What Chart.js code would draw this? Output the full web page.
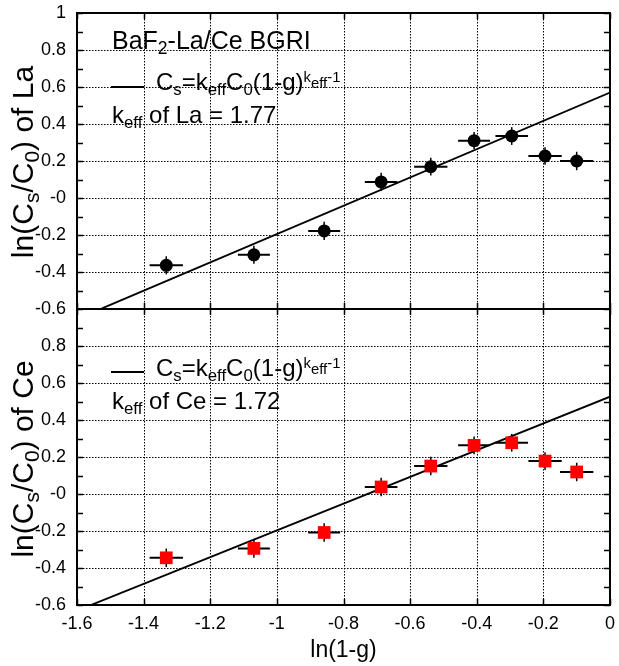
<!DOCTYPE html>
<html lang="en">
<head>
<meta charset="UTF-8">
<title>BaF2-La/Ce BGRI - ln(Cs/C0) vs ln(1-g)</title>
<script src="https://cdn.jsdelivr.net/npm/chart.js"></script>
<style>
  body { margin: 0; background: #fff; }
  .wrap { position: relative; width: 619px; height: 666px; font-family: 'Liberation Sans', Arial, sans-serif; color: #000; }
  .note { position: absolute; font-size: 24px; line-height: 1; white-space: nowrap; }
  .sb { position: relative; top: 0.3em; font-size: 70%; }
  .sp { position: relative; top: -0.55em; font-size: 62%; }
  .sp .sb { font-size: 100%; top: 0.4em; }
  .lg { position: absolute; height: 0; border-top: 2px solid #000; }
  .ytitle { position: absolute; font-size: 30px; line-height: 1; white-space: nowrap; transform: translate(-50%, -50%) rotate(-90deg); }
</style>
</head>
<body>
<div class="wrap">
  <canvas id="grafico" width="619" height="666"></canvas>

  <div class="ytitle" style="left:23px; top:162px">ln(C<span class="sb">s</span>/C<span class="sb">0</span>) of La</div>
  <div class="ytitle" style="left:23px; top:459px">ln(C<span class="sb">s</span>/C<span class="sb">0</span>) of Ce</div>

  <div class="note" style="left:112px; top:28px; font-size:25px">BaF<span class="sb">2</span>-La/Ce BGRI</div>
  <div class="lg" style="left:111px; top:86px; width:33px"></div>
  <div class="note" style="left:156px; top:70px">C<span class="sb">s</span>=k<span class="sb">eff</span>C<span class="sb">0</span>(1-g)<span class="sp">k<span class="sb">eff</span>-1</span></div>
  <div class="note" style="left:112px; top:103px">k<span class="sb">eff</span> of La = 1.77</div>

  <div class="lg" style="left:111px; top:371px; width:33px"></div>
  <div class="note" style="left:156px; top:356px">C<span class="sb">s</span>=k<span class="sb">eff</span>C<span class="sb">0</span>(1-g)<span class="sp">k<span class="sb">eff</span>-1</span></div>
  <div class="note" style="left:112px; top:389px">k<span class="sb">eff</span> of Ce = 1.72</div>
</div>

<script>
  // ln(1-g) positions of the samples
  const lnG = [-1.332, -1.069, -0.858, -0.687, -0.538, -0.408, -0.295, -0.195, -0.100];
  const errG = [0.05, 0.048, 0.048, 0.049, 0.05, 0.048, 0.049, 0.05, 0.05];

  // ln(Cs/C0) for La and Ce
  const lnLa = [-0.364, -0.307, -0.178, 0.087, 0.169, 0.310, 0.335, 0.227, 0.200];
  const errLa = [0.049, 0.049, 0.049, 0.049, 0.048, 0.047, 0.048, 0.047, 0.05];
  const lnCe = [-0.345, -0.294, -0.208, 0.038, 0.151, 0.263, 0.277, 0.178, 0.119];
  const errCe = [0.05, 0.05, 0.05, 0.05, 0.05, 0.048, 0.048, 0.048, 0.05];

  // fitted lines (slope = keff - 1)
  const fitLaX = [-1.525, 0];
  const fitLaY = [-0.597, 0.57];
  const fitCeX = [-1.555, 0];
  const fitCeY = [-0.598, 0.526];

  const xLabels = ['-1.6', '-1.4', '-1.2', '-1', '-0.8', '-0.6', '-0.4', '-0.2', '0'];
  const yLabels = ['-0.6', '-0.4', '-0.2', '-0', '0.2', '0.4', '0.6', '0.8', '1'];

  function pontos(xs, ys) {
    return xs.map((x, i) => ({ x: x, y: ys[i] }));
  }

  function rotuloX(v) {
    const k = Math.round((v + 1.6) * 5);
    return xLabels[k] || '';
  }

  function rotuloY(v) {
    const k = Math.round((v + 0.6) * 10);
    return k % 2 === 0 ? yLabels[k / 2] : '';
  }

  const ehMaior = v => Math.round(v * 10) % 2 === 0;

  // dotted grid, drawn before the data
  const grade = {
    id: 'grade',
    beforeDatasetsDraw(chart) {
      const { ctx, chartArea: a, scales } = chart;
      ctx.save();
      ctx.strokeStyle = '#000';
      ctx.lineWidth = 1;
      ctx.setLineDash([1.5, 1.5]);
      ctx.beginPath();
      scales.x.ticks.forEach(tk => {
        const px = Math.round(scales.x.getPixelForValue(tk.value)) + 0.5;
        ctx.moveTo(px, a.top);
        ctx.lineTo(px, a.bottom);
      });
      ['yLa', 'yCe'].forEach(id => {
        const s = scales[id];
        s.ticks.forEach(tk => {
          if (!ehMaior(tk.value)) return;
          const py = Math.round(s.getPixelForValue(tk.value)) + 0.5;
          ctx.moveTo(a.left, py);
          ctx.lineTo(a.right, py);
        });
      });
      ctx.stroke();
      ctx.restore();
    }
  };

  // error bars, drawn under the markers
  const barrasErro = {
    id: 'barrasErro',
    beforeDatasetsDraw(chart) {
      const ctx = chart.ctx;
      const xs = chart.scales.x;
      ctx.save();
      ctx.strokeStyle = '#000';
      chart.data.datasets.forEach(ds => {
        if (!ds.errX) return;
        const ys = chart.scales[ds.yAxisID];
        ds.data.forEach((p, j) => {
          const cx = xs.getPixelForValue(p.x);
          const cy = ys.getPixelForValue(p.y);
          ctx.lineWidth = 2;
          ctx.beginPath();
          ctx.moveTo(xs.getPixelForValue(p.x - ds.errX[j]), cy);
          ctx.lineTo(xs.getPixelForValue(p.x + ds.errX[j]), cy);
          ctx.stroke();
          ctx.lineWidth = 1.5;
          ctx.beginPath();
          ctx.moveTo(cx, ys.getPixelForValue(p.y - ds.errY[j]));
          ctx.lineTo(cx, ys.getPixelForValue(p.y + ds.errY[j]));
          ctx.stroke();
        });
      });
      ctx.restore();
    }
  };

  // frame, middle divider and inside tick marks
  const moldura = {
    id: 'moldura',
    afterDraw(chart) {
      const { ctx, chartArea: a, scales } = chart;
      const meio = scales.yLa.bottom;
      const t = 6;
      ctx.save();
      ctx.strokeStyle = '#000';
      ctx.lineWidth = 1.5;
      ctx.beginPath();
      scales.x.ticks.forEach(tk => {
        const px = Math.round(scales.x.getPixelForValue(tk.value)) + 0.5;
        ctx.moveTo(px, a.top); ctx.lineTo(px, a.top + t);
        ctx.moveTo(px, meio - t); ctx.lineTo(px, meio + t);
        ctx.moveTo(px, a.bottom - t); ctx.lineTo(px, a.bottom);
      });
      ['yLa', 'yCe'].forEach(id => {
        const s = scales[id];
        s.ticks.forEach(tk => {
          const py = Math.round(s.getPixelForValue(tk.value)) + 0.5;
          ctx.moveTo(a.left, py); ctx.lineTo(a.left + t, py);
          ctx.moveTo(a.right - t, py); ctx.lineTo(a.right, py);
        });
      });
      ctx.stroke();
      ctx.lineWidth = 2;
      ctx.strokeRect(a.left, a.top, a.width, a.height);
      ctx.beginPath();
      ctx.moveTo(a.left, meio);
      ctx.lineTo(a.right, meio);
      ctx.stroke();
      ctx.restore();
    }
  };

  Chart.defaults.font.family = "'Liberation Sans', Arial, sans-serif";
  Chart.defaults.color = '#000';

  function eixoY(ocultarTopo) {
    return {
      type: 'linear',
      position: 'left',
      stack: 'paineis',
      stackWeight: 1,
      min: -0.6,
      max: 1,
      ticks: {
        stepSize: 0.1,
        autoSkip: false,
        padding: 11,
        font: { size: 18 },
        callback: v => (ocultarTopo && Math.round(v * 10) === 10) ? '' : rotuloY(v)
      },
      grid: { display: false, drawTicks: false },
      border: { display: false },
      afterFit: s => { s.width = 77; s.paddingTop = 0; s.paddingBottom = 0; }
    };
  }

  new Chart(document.getElementById('grafico'), {
    type: 'scatter',
    data: {
      datasets: [
        {
          label: 'La',
          data: pontos(lnG, lnLa),
          yAxisID: 'yLa',
          pointStyle: 'circle',
          pointRadius: 6.5,
          backgroundColor: '#000',
          borderWidth: 0,
          errX: errG,
          errY: errLa
        },
        {
          label: 'Ce',
          data: pontos(lnG, lnCe),
          yAxisID: 'yCe',
          pointStyle: 'rect',
          pointRadius: 9,
          backgroundColor: '#ff0000',
          borderWidth: 0,
          errX: errG,
          errY: errCe
        },
        {
          label: 'fit La',
          data: pontos(fitLaX, fitLaY),
          yAxisID: 'yLa',
          showLine: true,
          pointRadius: 0,
          borderColor: '#000',
          borderWidth: 1.8
        },
        {
          label: 'fit Ce',
          data: pontos(fitCeX, fitCeY),
          yAxisID: 'yCe',
          showLine: true,
          pointRadius: 0,
          borderColor: '#000',
          borderWidth: 1.8
        }
      ]
    },
    options: {
      responsive: false,
      animation: false,
      layout: { padding: { left: 0, right: 4, top: 13, bottom: 0 } },
      plugins: { legend: { display: false }, tooltip: { enabled: false } },
      scales: {
        x: {
          type: 'linear',
          position: 'bottom',
          min: -1.6,
          max: 0,
          ticks: { stepSize: 0.2, autoSkip: false, maxRotation: 0, padding: 8, font: { size: 18 }, callback: rotuloX },
          grid: { display: false, drawTicks: false },
          border: { display: false },
          title: { display: true, text: 'ln(1-g)', font: { size: 23 }, padding: { top: 0, bottom: 2 } },
          afterFit: s => { s.height = 61; s.paddingLeft = 0; s.paddingRight = 0; }
        },
        yCe: eixoY(true),
        yLa: eixoY(false)
      }
    },
    plugins: [grade, barrasErro, moldura]
  });
</script>
</body>
</html>
